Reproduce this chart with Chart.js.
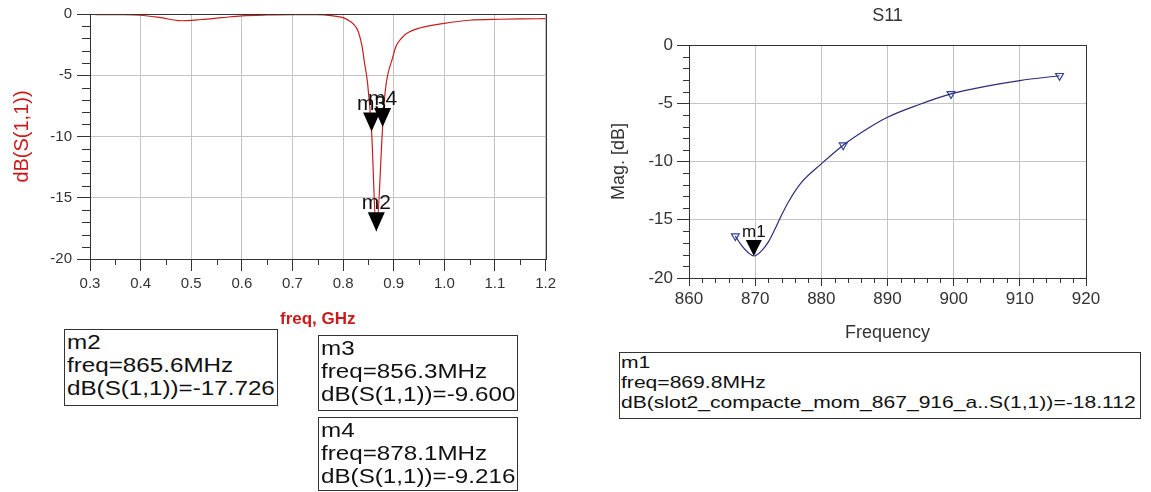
<!DOCTYPE html>
<html>
<head>
<meta charset="utf-8">
<title>S11</title>
<script src="https://cdn.jsdelivr.net/npm/chart.js@4.4.1/dist/chart.umd.min.js"></script>
<style>
  body { margin: 0; background: #fff; width: 1151px; height: 492px; overflow: hidden; position: relative;
         font-family: 'Liberation Sans', Arial, sans-serif; }
  .wrap { position: absolute; }
  .box { position: absolute; border: 1px solid #333; box-sizing: border-box; background: #fff; overflow: hidden; }
  .box div { transform-origin: 0 0; white-space: pre; color: #111; }
  #boxM2, #boxM3, #boxM4 { padding: 1px 0 0 2px; font-size: 20px; line-height: 23px; }
  #boxM2 div, #boxM3 div, #boxM4 div { transform: scaleX(1.21); }
  #boxM1 { padding: 0 0 0 1px; font-size: 17px; line-height: 20px; }
  #boxM1 div { transform: scaleX(1.24); }
</style>
</head>
<body>
<div class="wrap" style="left:0;top:0"><canvas id="sweep" width="560" height="330"></canvas></div>
<div class="wrap" style="left:560px;top:0"><canvas id="mom" width="591" height="350"></canvas></div>
<div class="box" id="boxM2" style="left:64px;top:329px;width:214px;height:77px"><div></div></div>
<div class="box" id="boxM3" style="left:318px;top:335px;width:200px;height:76px"><div></div></div>
<div class="box" id="boxM4" style="left:318px;top:417px;width:200px;height:74px"><div></div></div>
<div class="box" id="boxM1" style="left:619px;top:352px;width:522px;height:67px"><div></div></div>
<script>
// wide sweep, dB(S(1,1)) vs freq in GHz
const sweepFreq = [0.30, 0.32, 0.36, 0.40, 0.44, 0.48, 0.52, 0.56, 0.60, 0.65, 0.70, 0.75, 0.78, 0.80,
  0.81, 0.82, 0.83, 0.8386, 0.8414, 0.8484, 0.8563, 0.8656, 0.8781, 0.883, 0.888, 0.8966, 0.905,
  0.915, 0.926, 0.951, 1.00, 1.05, 1.11, 1.15, 1.20];
const sweepDb = [-0.02, -0.05, -0.06, -0.1, -0.3, -0.55, -0.45, -0.3, -0.15, -0.08, -0.05, -0.05, -0.15, -0.3,
  -0.5, -0.8, -1.45, -2.9, -3.75, -5.66, -9.6, -17.726, -9.216, -6.4, -5.0, -3.75, -2.6,
  -2.0, -1.58, -1.14, -0.76, -0.51, -0.43, -0.4, -0.38];

// sweep markers
const sweepMarkNames = ['m2', 'm3', 'm4'];
const sweepMarkFreq = [0.8656, 0.8563, 0.8781];
const sweepMarkDb = [-17.726, -9.600, -9.216];

// momentum run, Mag. [dB] vs frequency in MHz
const momFreq = [867, 868, 869, 869.8, 871, 872, 873, 874, 875, 877, 880, 883.3, 887.2, 890, 894.6, 899.6, 904.8, 910, 916];
const momDb = [-16.4, -17.25, -17.85, -18.112, -17.65, -16.9, -15.8, -14.6, -13.5, -11.8, -10.2, -8.6, -7.1, -6.2, -5.15, -4.2, -3.55, -3.05, -2.64];

// simulated frequency points
const simFreq = [867, 883.3, 899.6, 916];
const simDb = [-16.4, -8.6, -4.2, -2.64];

const momMarkNames = ['m1'];
const momMarkFreq = [869.8];
const momMarkDb = [-18.112];

const sweepXTicks = [0.3, 0.4, 0.5, 0.6, 0.7, 0.8, 0.9, 1.0, 1.1, 1.2];
const momXTicks = [860, 870, 880, 890, 900, 910, 920];

const FONT = "'Liberation Sans', Arial, sans-serif";

// short outward ticks between the labelled ones
const minorTicks = {
  id: 'minorTicks',
  afterDraw(chart, args, o) {
    const {ctx, chartArea: a} = chart;
    const xs = chart.scales.x, ys = chart.scales.y;
    ctx.save();
    ctx.strokeStyle = '#333';
    ctx.lineWidth = 1;
    ctx.beginPath();
    let n = Math.round((xs.max - xs.min) / o.xStep);
    for (let i = 1; i < n; i++) {
      if (i % o.xEvery === 0) continue;
      const px = Math.round(xs.getPixelForValue(xs.min + i * o.xStep)) + 0.5;
      ctx.moveTo(px, a.bottom);
      ctx.lineTo(px, a.bottom + o.xLen);
    }
    n = Math.round((ys.max - ys.min) / o.yStep);
    for (let i = 1; i < n; i++) {
      if (i % o.yEvery === 0) continue;
      const py = Math.round(ys.getPixelForValue(ys.min + i * o.yStep)) + 0.5;
      ctx.moveTo(a.left, py);
      ctx.lineTo(a.left - o.yLen, py);
    }
    ctx.stroke();
    // plot frame
    ctx.strokeStyle = '#333';
    ctx.strokeRect(Math.round(a.left) + 0.5, Math.round(a.top) + 0.5,
      Math.round(a.right - a.left), Math.round(a.bottom - a.top));
    ctx.restore();
  }
};

// filled marker triangles, tip on the trace, name above
const markerPins = {
  id: 'markerPins',
  afterDatasetsDraw(chart, args, o) {
    const {ctx} = chart;
    const xs = chart.scales.x, ys = chart.scales.y;
    ctx.save();
    o.names.forEach((name, i) => {
      const px = xs.getPixelForValue(o.freq[i]);
      const py = ys.getPixelForValue(o.db[i]);
      ctx.fillStyle = '#000';
      ctx.beginPath();
      ctx.moveTo(px, py);
      ctx.lineTo(px - o.w / 2, py - o.h);
      ctx.lineTo(px + o.w / 2, py - o.h);
      ctx.closePath();
      ctx.fill();
      ctx.font = o.font;
      ctx.textAlign = 'center';
      ctx.textBaseline = 'alphabetic';
      ctx.fillStyle = '#111';
      ctx.fillText(name, px, py - o.h - 3);
    });
    ctx.restore();
  }
};

function axis(min, max, step, opts) {
  return {
    type: 'linear', min: min, max: max,
    afterFit: opts.fit,
    afterBuildTicks: opts.tickList ? (s) => { s.ticks = opts.tickList.map(v => ({value: v})); } : undefined,
    grid: { color: '#c4c4c4', tickColor: '#333', tickLength: opts.tickLen, drawTicks: true },
    border: { display: true, color: '#333' },
    ticks: {
      stepSize: step, padding: opts.pad, color: '#333', autoSkip: false, maxRotation: 0,
      font: { family: FONT, size: opts.fontSize },
      callback: opts.fmt
    },
    title: opts.title
  };
}

new Chart(document.getElementById('sweep'), {
  type: 'line',
  data: {
    datasets: [{
      data: sweepFreq.map((f, i) => ({x: f, y: sweepDb[i]})),
      borderColor: '#c81e1e', borderWidth: 1.2, pointRadius: 0,
      cubicInterpolationMode: 'monotone'
    }]
  },
  options: {
    responsive: false, animation: false, devicePixelRatio: 1,
    layout: { padding: { left: 0, right: 14, top: 14, bottom: 0 } },
    plugins: {
      legend: { display: false }, tooltip: { enabled: false },
      minorTicks: { xStep: 0.05, xEvery: 2, xLen: 6, yStep: 1, yEvery: 5, yLen: 8 },
      markerPins: { names: sweepMarkNames, freq: sweepMarkFreq, db: sweepMarkDb, w: 17, h: 19,
                    font: '21px ' + FONT }
    },
    scales: {
      x: axis(0.3, 1.2, 0.1, {
        fit: s => { s.height = 71; }, tickList: sweepXTicks, tickLen: 12, pad: 4, fontSize: 15,
        fmt: v => v.toFixed(1),
        title: { display: true, text: 'freq, GHz', color: '#cc1a1a', padding: { top: 0, bottom: 0 },
                 font: { family: FONT, size: 17, weight: 'bold' } }
      }),
      y: axis(-20, 0, 5, {
        fit: s => { s.width = 90; }, tickLen: 13, pad: 5, fontSize: 15,
        fmt: v => String(v),
        title: { display: true, text: 'dB(S(1,1))', color: '#cc1a1a', padding: { top: 10, bottom: 0 },
                 font: { family: FONT, size: 20, weight: 'normal' } }
      })
    }
  },
  plugins: [minorTicks, markerPins]
});

new Chart(document.getElementById('mom'), {
  type: 'line',
  data: {
    datasets: [{
      data: momFreq.map((f, i) => ({x: f, y: momDb[i]})),
      borderColor: '#2c2c78', borderWidth: 1.2, pointRadius: 0,
      cubicInterpolationMode: 'monotone'
    }, {
      data: simFreq.map((f, i) => ({x: f, y: simDb[i]})),
      showLine: false, pointStyle: 'triangle', rotation: 180, pointRadius: 4.5,
      borderColor: '#2f3fa0', backgroundColor: '#fff', borderWidth: 1.2
    }]
  },
  options: {
    responsive: false, animation: false, devicePixelRatio: 1,
    layout: { padding: { left: 0, right: 65, top: 0, bottom: 0 } },
    plugins: {
      legend: { display: false }, tooltip: { enabled: false },
      title: { display: true, text: 'S11', fullSize: false, color: '#333',
               padding: { top: 5, bottom: 18.4 }, font: { family: FONT, size: 18, weight: 'normal' } },
      minorTicks: { xStep: 2, xEvery: 5, xLen: 5, yStep: 1, yEvery: 5, yLen: 6 },
      markerPins: { names: momMarkNames, freq: momMarkFreq, db: momMarkDb, w: 16, h: 16,
                    font: '17px ' + FONT }
    },
    scales: {
      x: axis(860, 920, 10, {
        fit: s => { s.height = 72; }, tickList: momXTicks, tickLen: 8, pad: 3, fontSize: 17,
        fmt: v => String(v),
        title: { display: true, text: 'Frequency', color: '#333', padding: { top: 0, bottom: 6 },
                 font: { family: FONT, size: 18 } }
      }),
      y: axis(-20, 0, 5, {
        fit: s => { s.width = 129; }, tickLen: 12, pad: 4, fontSize: 17,
        fmt: v => String(v),
        title: { display: true, text: 'Mag. [dB]', color: '#333', padding: { top: 48, bottom: 0 },
                 font: { family: FONT, size: 18 } }
      })
    }
  },
  plugins: [minorTicks, markerPins]
});

// marker readouts
function readout(id, lines) {
  document.querySelector('#' + id + ' div').textContent = lines.join('\n');
}
['boxM2', 'boxM3', 'boxM4'].forEach((id, i) => {
  readout(id, [sweepMarkNames[i], 'freq=' + (sweepMarkFreq[i] * 1000).toFixed(1) + 'MHz',
               'dB(S(1,1))=' + sweepMarkDb[i].toFixed(3)]);
});
readout('boxM1', [momMarkNames[0], 'freq=' + momMarkFreq[0].toFixed(1) + 'MHz',
                  'dB(slot2_compacte_mom_867_916_a..S(1,1))=' + momMarkDb[0].toFixed(3)]);
</script>
</body>
</html>
